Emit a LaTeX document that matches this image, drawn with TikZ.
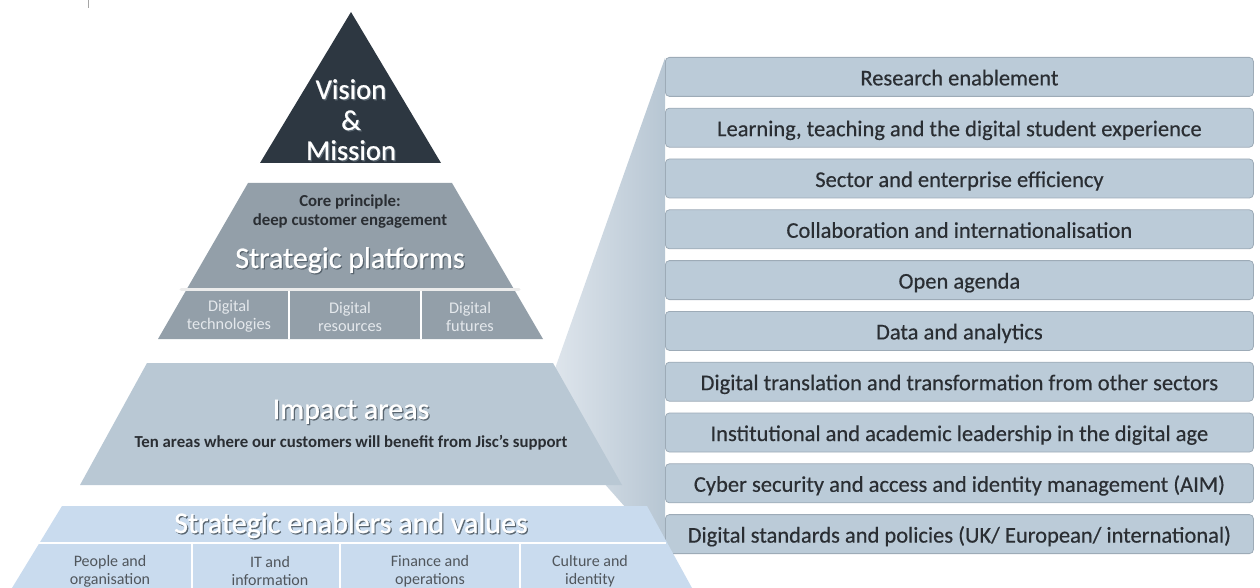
\documentclass[tikz,border=0pt]{standalone}
\usepackage{fontspec}
\setmainfont{Carlito}
\newfontfamily\semibold[FakeBold=0.4]{Carlito}
\newfontfamily\titlefont[FakeBold=0.8]{Carlito}
\definecolor{visionc}{HTML}{2D3741}
\definecolor{platc}{HTML}{939FA9}
\definecolor{impc}{HTML}{B9C8D4}
\definecolor{enabc}{HTML}{C9DBEE}
\definecolor{boxc}{HTML}{BBCBD8}
\definecolor{boxedge}{HTML}{9DABB7}
\definecolor{txtc}{HTML}{2A2E33}
\definecolor{coltxt}{HTML}{50565C}
\definecolor{plattxt}{HTML}{E4E8EC}
\definecolor{wedgeL}{HTML}{E3E9EF}
\definecolor{wedgeR}{HTML}{B7C6D3}
\definecolor{shadowc}{HTML}{5A6670}
\newcommand\mysh[1]{\makebox[0pt][l]{\hspace{1.2pt}\raisebox{-1.2pt}{\color{shadowc}#1}}#1}
\newcommand\fsz[1]{\fontsize{#1}{#1}\selectfont}
\tikzset{
  bigwhite/.style={text=white, inner sep=0pt, anchor=base, font=\titlefont\fsz{30}},
  visiontext/.style={text=white, inner sep=0pt, anchor=base, font=\titlefont\fsz{28.6}},
  darksmall/.style={text=txtc, inner sep=0pt, anchor=base, font=\bfseries\fsz{16.8}},
  coltext/.style={text=coltxt, inner sep=0pt, align=center, font=\fontsize{16}{18}\selectfont},
  plattext/.style={text=plattxt, inner sep=0pt, align=center, font=\fontsize{16.3}{18}\selectfont},
  areabox/.style={draw=boxedge, fill=boxc, rounded corners=4pt, line width=0.8pt,
    minimum width=588pt, minimum height=39pt, inner sep=0pt, anchor=north west,
    text height=20pt, text depth=3pt,
    text=txtc, font=\semibold\fsz{22.5}},
  divline/.style={white, line width=1.5pt},
}
\begin{document}
\begin{tikzpicture}[x=1pt,y=-1pt]
\useasboundingbox (0,0) rectangle (1260,588);
% small mark
\draw[gray!70, line width=1pt] (88,0) -- (88,8);
% gradient wedge
\shade[left color=wedgeL, right color=wedgeR] (665,58) -- (540,411) -- (665,552) -- cycle;
% right-hand boxes
\foreach \t [count=\i from 0] in {
  Research enablement,
  {Learning, teaching and the digital student experience},
  Sector and enterprise efficiency,
  Collaboration and internationalisation,
  Open agenda,
  Data and analytics,
  Digital translation and transformation from other sectors,
  Institutional and academic leadership in the digital age,
  Cyber security and access and identity management (AIM),
  Digital standards and policies (UK/ European/ international)}{
  \node[areabox] (area\i) at (665,{57+50.8*\i}) {\t};
}
% Vision & Mission
\fill[visionc] (351,12) -- (441,163) -- (260,163) -- cycle;
\node[visiontext] (vision1) at (351,99) {\mysh{Vision}};
\node[visiontext] (vision2) at (351,130) {\mysh{\&}};
\node[visiontext] (vision3) at (351,160) {\mysh{Mission}};
% Strategic platforms
\fill[platc] (248,183) -- (452,183) -- (543,339) -- (158,339) -- cycle;
\draw[divline] (289,291) -- (289,339);
\draw[divline] (421,291) -- (421,339);
\draw[line width=3pt, white!85!gray, line cap=round] (181,289) -- (519,289);
\node[darksmall] (core1) at (350,206) {Core principle:};
\node[darksmall] (core2) at (350,225) {deep customer engagement};
\node[bigwhite] (plat) at (350,268) {\mysh{Strategic platforms}};
\node[plattext] (p1) at (229,316.5) {Digital\\technologies};
\node[plattext] (p2) at (350,316.5) {Digital\\resources};
\node[plattext] (p3) at (470,316.5) {Digital\\futures};
% Impact areas
\fill[impc] (147,363) -- (553,363) -- (622,485) -- (80,485) -- cycle;
\node[bigwhite] (imp) at (351,419) {\mysh{Impact areas}};
\node[darksmall] (impsub) at (351,447) {Ten areas where our customers will benefit from Jisc's support};
% Strategic enablers
\fill[enabc] (62,506) -- (647,506) -- (692,588) -- (12,588) -- cycle;
\draw[divline] (36,543) -- (666,543);
\draw[divline] (192,543) -- (192,588);
\draw[divline] (340,543) -- (340,588);
\draw[divline] (520,543) -- (520,588);
\node[bigwhite] (enab) at (351,533) {\mysh{Strategic enablers and values}};
\node[coltext] (e1) at (110,571) {People and\\organisation};
\node[coltext] (e2) at (270,571) {IT and\\information};
\node[coltext] (e3) at (430,571) {Finance and\\operations};
\node[coltext] (e4) at (590,571) {Culture and\\identity};
\end{tikzpicture}
\end{document}
